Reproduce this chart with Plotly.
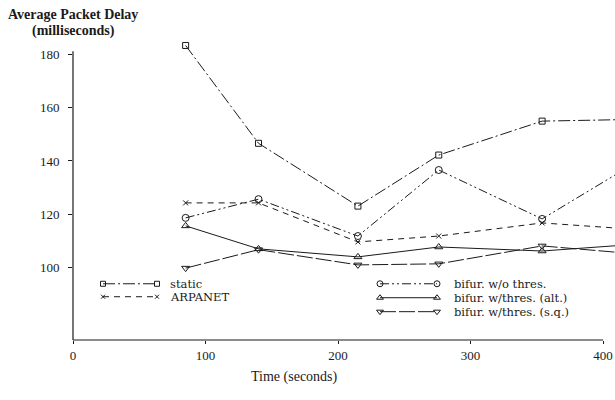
import plotly.graph_objects as go

# ---- data ----
time_s = [85, 140, 215, 276, 354, 430]
static = [183.2, 146.6, 123.1, 142.2, 154.9, 155.6]
arpanet = [124.3, 124.3, 109.7, 111.9, 116.8, 114.2]
bifur_wo = [118.7, 125.7, 111.9, 136.6, 118.3, 141.0]
bifur_alt = [115.7, 107.1, 104.1, 107.8, 106.3, 109.0]
bifur_sq = [99.9, 106.8, 101.1, 101.5, 108.2, 105.0]

names_left = ["static", "ARPANET"]
names_right = ["bifur. w/o thres.", "bifur. w/thres. (alt.)", "bifur. w/thres. (s.q.)"]
x_ticks = [0, 100, 200, 300, 400]
y_ticks = [100, 120, 140, 160, 180]

# ---- styles ----
INK = "#1a1a1a"
SERIF = "Liberation Serif"
WIDE_SERIF = "DejaVu Serif"
W, H = 615, 400
L, R, T, B = 73, 0, 37.5, 59.6
X_RANGE = [0, 409]
Y_RANGE = [73, 186]
PW, PH = W - L - R, H - T - B


def px_to_paper(px, py):
    return (px - L) / PW, (H - B - py) / PH


styles = {
    "static": dict(dash="12px,3px,2px,3px", symbol="square-open", size=6),
    "ARPANET": dict(dash="6px,5px", symbol="x-thin-open", size=5),
    "bifur. w/o thres.": dict(dash="9px,3px,2px,3px,2px,3px", symbol="circle-open", size=7),
    "bifur. w/thres. (alt.)": dict(dash="solid", symbol="triangle-up-open", size=7),
    "bifur. w/thres. (s.q.)": dict(dash="16px,3px", symbol="triangle-down-open", size=7),
}
series = {
    "static": static,
    "ARPANET": arpanet,
    "bifur. w/o thres.": bifur_wo,
    "bifur. w/thres. (alt.)": bifur_alt,
    "bifur. w/thres. (s.q.)": bifur_sq,
}

fig = go.Figure()
for name, vals in series.items():
    st = styles[name]
    fig.add_trace(go.Scatter(
        x=time_s, y=vals, mode="lines+markers", name=name, showlegend=False,
        line=dict(color=INK, width=1, dash=st["dash"]),
        marker=dict(symbol=st["symbol"], size=st["size"], color=INK,
                    line=dict(color=INK, width=1)),
        cliponaxis=True,
    ))

# ---- hand-drawn legend on a pixel overlay axis ----
legend_rows = []
for i, n in enumerate(names_left):
    legend_rows.append((n, 103, 157, 169, 284 + 13 * i))
for i, n in enumerate(names_right):
    legend_rows.append((n, 380, 437, 453, 284 + 14 * i))

annotations = []
for n, x0, x1, xt, yp in legend_rows:
    st = styles[n]
    fig.add_trace(go.Scatter(
        x=[x0, x1], y=[yp, yp], xaxis="x2", yaxis="y2", mode="lines+markers",
        showlegend=False, hoverinfo="skip",
        line=dict(color=INK, width=1, dash=st["dash"]),
        marker=dict(symbol=st["symbol"], size=st["size"] - 1, color=INK,
                    line=dict(color=INK, width=1)),
    ))
    ax, ay = px_to_paper(xt, yp)
    annotations.append(dict(
        x=ax, y=ay, xref="paper", yref="paper", text=n, showarrow=False,
        xanchor="left", yanchor="middle", borderpad=0,
        font=dict(family=WIDE_SERIF, size=11.5, color=INK),
    ))

# titles
for txt, cx, cy, size in [("<b>Average Packet Delay</b>", 73, 14, 14),
                          ("<b>(milliseconds)</b>", 73, 30, 14),
                          ("Time (seconds)", 294, 378, 14)]:
    ax, ay = px_to_paper(cx, cy)
    annotations.append(dict(x=ax, y=ay, xref="paper", yref="paper", text=txt,
                            showarrow=False, xanchor="center", yanchor="middle",
                            borderpad=0, font=dict(family=SERIF, size=size, color=INK)))

shapes = [
    dict(type="line", xref="x", yref="paper", x0=0, x1=400, y0=0, y1=0,
         line=dict(color=INK, width=1.2)),
    dict(type="line", xref="paper", yref="y", x0=0, x1=0, y0=Y_RANGE[0], y1=181,
         line=dict(color=INK, width=1.2)),
]

fig.update_layout(
    width=W, height=H,
    margin=dict(l=L, r=R, t=T, b=B, pad=0),
    paper_bgcolor="white", plot_bgcolor="white",
    font=dict(family=SERIF, size=13, color=INK),
    xaxis=dict(range=X_RANGE, tickvals=x_ticks, ticks="outside", ticklen=3,
               tickcolor=INK, showgrid=False, zeroline=False, showline=False,
               tickfont=dict(family=SERIF, size=13, color=INK)),
    yaxis=dict(range=Y_RANGE, tickvals=y_ticks, ticks="outside", ticklen=4,
               tickcolor=INK, showgrid=False, zeroline=False, showline=False,
               tickfont=dict(family=SERIF, size=13, color=INK), ticklabelstandoff=6),
    xaxis2=dict(range=[L, W - R], overlaying="x", visible=False, anchor="y2"),
    yaxis2=dict(range=[H - B, T], overlaying="y", visible=False, anchor="x2"),
    annotations=annotations,
    shapes=shapes,
    showlegend=False,
)

fig.write_html("out.html")
